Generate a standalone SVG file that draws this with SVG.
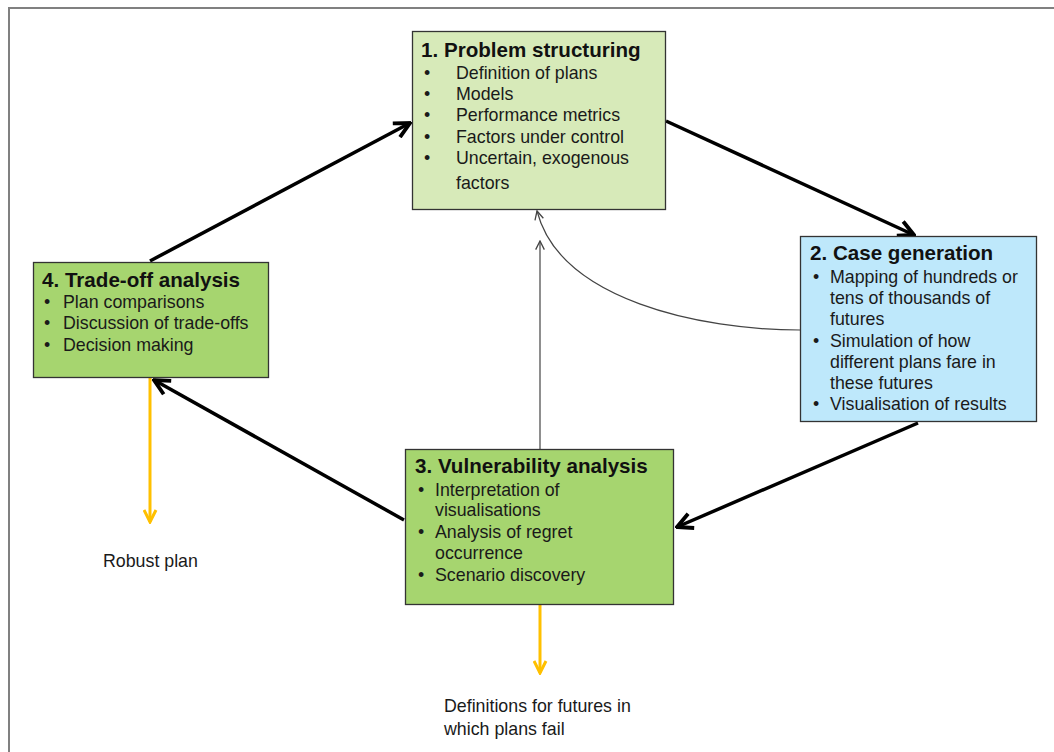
<svg xmlns="http://www.w3.org/2000/svg" width="1054" height="752" viewBox="0 0 1054 752">
<style>
.box{stroke:#333;stroke-width:1.3}
.t{font-family:"Liberation Sans",Arial,sans-serif;font-size:20.6px;font-weight:bold;fill:#111}
.i{font-family:"Liberation Sans",Arial,sans-serif;font-size:17.8px;fill:#1a1a1a}
.k{stroke:#000;stroke-width:3.5;fill:none}
.th{stroke:#444;stroke-width:1.2;fill:none}
.o{stroke:#ffc000;stroke-width:3;fill:none}
</style>
<defs>
<marker id="ak" viewBox="0 0 10 10" refX="9" refY="5" markerWidth="5.5" markerHeight="5.5" orient="auto" markerUnits="strokeWidth"><path d="M1,1 L9,5 L1,9" fill="none" stroke="#000" stroke-width="2"/></marker>
<marker id="at" viewBox="0 0 10 10" refX="9" refY="5" markerWidth="9" markerHeight="9" orient="auto" markerUnits="strokeWidth"><path d="M1,1 L9,5 L1,9" fill="none" stroke="#444" stroke-width="1.2"/></marker>
<marker id="ao" viewBox="0 0 10 10" refX="9" refY="5" markerWidth="5" markerHeight="5" orient="auto" markerUnits="strokeWidth"><path d="M1,1 L9,5 L1,9" fill="none" stroke="#ffc000" stroke-width="2"/></marker>
</defs>
<rect x="0" y="0" width="1054" height="752" fill="#fff"/>
<rect x="9" y="8" width="1100" height="800" fill="none" stroke="#808080" stroke-width="2"/>
<g id="connectors">
<line class="k" x1="150" y1="261" x2="410" y2="123" marker-end="url(#ak)"/>
<line class="k" x1="666" y1="121" x2="914" y2="235" marker-end="url(#ak)"/>
<line class="k" x1="918" y1="423" x2="677" y2="527" marker-end="url(#ak)"/>
<line class="k" x1="404" y1="520" x2="154" y2="380" marker-end="url(#ak)"/>
<line class="th" x1="540" y1="449" x2="540" y2="241" marker-end="url(#at)"/>
<path class="th" d="M800,330 C700,330 560,300 537,211" marker-end="url(#at)"/>
<line class="o" x1="150" y1="378" x2="150" y2="522" marker-end="url(#ao)"/>
<line class="o" x1="540" y1="605" x2="540" y2="673" marker-end="url(#ao)"/>
</g>
<g id="n1">
<rect class="box" x="412.5" y="31.5" width="253" height="178" fill="#d7eab9"/>
<text class="t" x="421" y="57">1. Problem structuring</text>
<text class="i" x="424" y="79">•</text><text class="i" x="456" y="79">Definition of plans</text>
<text class="i" x="424" y="100">•</text><text class="i" x="456" y="100">Models</text>
<text class="i" x="424" y="121">•</text><text class="i" x="456" y="121">Performance metrics</text>
<text class="i" x="424" y="143">•</text><text class="i" x="456" y="143">Factors under control</text>
<text class="i" x="424" y="164">•</text><text class="i" x="456" y="164">Uncertain, exogenous</text>
<text class="i" x="456" y="189">factors</text>
</g>
<g id="n2">
<rect class="box" x="800.5" y="236.5" width="236" height="185" fill="#bee8fb"/>
<text class="t" x="810" y="260">2. Case generation</text>
<text class="i" x="813" y="283">•</text><text class="i" x="830" y="283">Mapping of hundreds or</text>
<text class="i" x="830" y="304">tens of thousands of</text>
<text class="i" x="830" y="325">futures</text>
<text class="i" x="813" y="347">•</text><text class="i" x="830" y="347">Simulation of how</text>
<text class="i" x="830" y="368">different plans fare in</text>
<text class="i" x="830" y="389">these futures</text>
<text class="i" x="813" y="410">•</text><text class="i" x="830" y="410">Visualisation of results</text>
</g>
<g id="n4">
<rect class="box" x="33.5" y="262.5" width="235" height="115" fill="#a6d56f"/>
<text class="t" x="42" y="287">4.  Trade-off analysis</text>
<text class="i" x="44" y="308">•</text><text class="i" x="63" y="308">Plan comparisons</text>
<text class="i" x="44" y="329">•</text><text class="i" x="63" y="329">Discussion of trade-offs</text>
<text class="i" x="44" y="351">•</text><text class="i" x="63" y="351">Decision making</text>
</g>
<g id="n3">
<rect class="box" x="405.5" y="449.5" width="268" height="155" fill="#a6d56f"/>
<text class="t" x="415" y="473">3. Vulnerability  analysis</text>
<text class="i" x="418" y="496">•</text><text class="i" x="435" y="496">Interpretation of</text>
<text class="i" x="435" y="516">visualisations</text>
<text class="i" x="418" y="538">•</text><text class="i" x="435" y="538">Analysis of regret</text>
<text class="i" x="435" y="559">occurrence</text>
<text class="i" x="418" y="581">•</text><text class="i" x="435" y="581">Scenario discovery</text>
</g>
<g id="out1"><text class="i" x="103" y="567">Robust plan</text></g>
<g id="out2"><text class="i" x="444" y="712">Definitions for futures in</text><text class="i" x="444" y="735">which plans fail</text></g>
</svg>
